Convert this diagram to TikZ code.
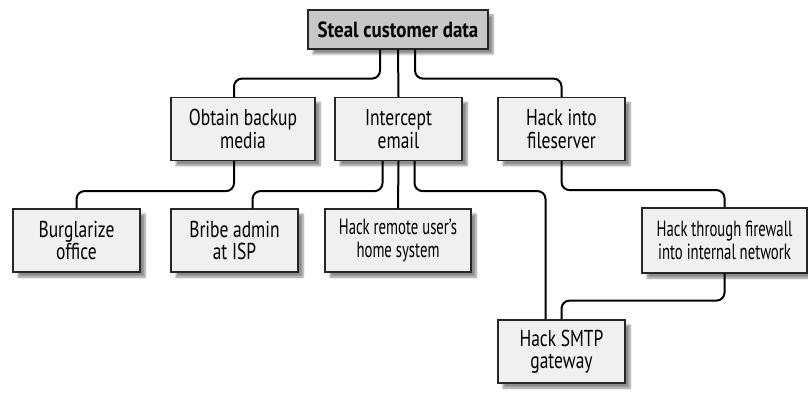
\documentclass[tikz,border=0pt]{standalone}
\usepackage{fontspec}
\setmainfont{PT Sans}[FakeStretch=0.76]
\newfontfamily\narrowfont{PT Sans}[FakeStretch=0.67]
\newfontfamily\goalfont{PT Sans}[FakeStretch=0.86]
\usetikzlibrary{shadows.blur}
\begin{document}
\begin{tikzpicture}[x=1pt,y=-1pt,
  box/.style={draw=black!85, line width=1.2pt, fill=black!6, inner sep=0pt,
    align=center, font=\fontsize{23}{22.5}\selectfont,
    minimum width=127pt, minimum height=63pt,
    blur shadow={shadow xshift=5pt, shadow yshift=-5pt, shadow blur steps=6, shadow opacity=45}},
  narrow/.style={font=\narrowfont\fontsize{22}{22.5}\selectfont},
  link/.style={line width=2pt, rounded corners=8pt}]
\useasboundingbox (0,0) rectangle (808,393);
% the goal
\node[box, fill=black!22, minimum width=180pt, minimum height=39pt,
  font=\goalfont\fontsize{22}{22}\selectfont\bfseries] (steal) at (398,29.5) {Steal customer data};
% first level
\node[box, minimum width=144pt] (backup) at (243,129) {Obtain backup\\media};
\node[box] (email) at (398.5,129) {Intercept\\email};
\node[box] (fileserver) at (561.5,129) {Hack into\\fileserver};
% second level
\node[box] (burglar) at (76.5,240.5) {Burglarize\\office};
\node[box] (bribe) at (234.5,240.5) {Bribe admin\\at ISP};
\node[box, narrow, minimum width=146pt] (remote) at (398,240.5) {Hack remote user’s\\home system};
\node[box, narrow, minimum width=165pt, minimum height=65pt] (firewall) at (724.5,240.5) {Hack through firewall\\into internal network};
\node[box] (smtp) at (561.5,351.5) {Hack SMTP\\gateway};
% links
\draw[link] ([xshift=-18pt]steal.south) -- ++(0,29) -| ([xshift=-9pt]backup.north);
\draw[link] (steal.south) -- (email.north);
\draw[link] ([xshift=17pt]steal.south) -- ++(0,29) -| (fileserver.north);
\draw[link] ([xshift=-9pt]backup.south) -- ++(0,30) -| (burglar.north);
\draw[link] ([xshift=-16pt]email.south) -- ++(0,30) -| ([xshift=18pt]bribe.north);
\draw[link] (email.south) -- (remote.north);
\draw[link] ([xshift=16pt]email.south) -- ++(0,30) -| ([xshift=-16pt]smtp.north);
\draw[link] (fileserver.south) -- ++(0,29) -| (firewall.north);
\draw[link] (firewall.south) -- ++(0,27) -| (smtp.north);
\end{tikzpicture}
\end{document}
